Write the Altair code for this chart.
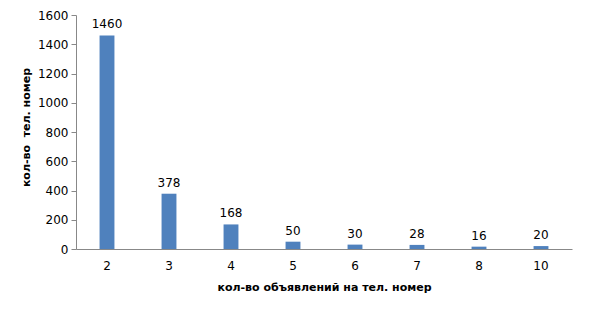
import altair as alt
import pandas as pd

categories = ["2", "3", "4", "5", "6", "7", "8", "10"]
values = [1460, 378, 168, 50, 30, 28, 16, 20]

df = pd.DataFrame({"cat": categories, "val": values})

font = "DejaVu Sans"
base = alt.Chart(df).encode(
    x=alt.X("cat:N", sort=categories,
            scale=alt.Scale(paddingInner=0.76, paddingOuter=0.38),
            axis=alt.Axis(title="кол-во объявлений на тел. номер", labelAngle=0,
                          ticks=False, domainColor="#888888", labelPadding=11,
                          titlePadding=10, labelFontSize=12, titleFontSize=11,
                          labelFont=font, titleFont=font, labelColor="#000000",
                          titleColor="#000000", titleFontWeight="bold")),
    y=alt.Y("val:Q", scale=alt.Scale(domain=[0, 1600]),
            axis=alt.Axis(title="кол-во\u00a0\u00a0тел. номер", values=list(range(0, 1601, 200)),
                          format="d", grid=False, domainColor="#888888", tickColor="#888888",
                          tickSize=5, labelPadding=3, titlePadding=6, titleY=112,
                          labelFontSize=12, titleFontSize=11, labelFont=font,
                          titleFont=font, labelColor="#000000", titleColor="#000000",
                          titleFontWeight="bold")),
)

bars = base.mark_bar(color="#4F81BD")
labels = base.mark_text(dy=-11, fontSize=12, font=font, color="#000000").encode(text="val:Q")

chart = (bars + labels).properties(
    width=496, height=234,
    autosize=alt.AutoSizeParams(type="none"),
    padding={"left": 76, "top": 15, "right": 38, "bottom": 72},
    background="white",
).configure_view(stroke=None)

chart.save("out.html", embed_options={"renderer": "svg", "actions": False})
